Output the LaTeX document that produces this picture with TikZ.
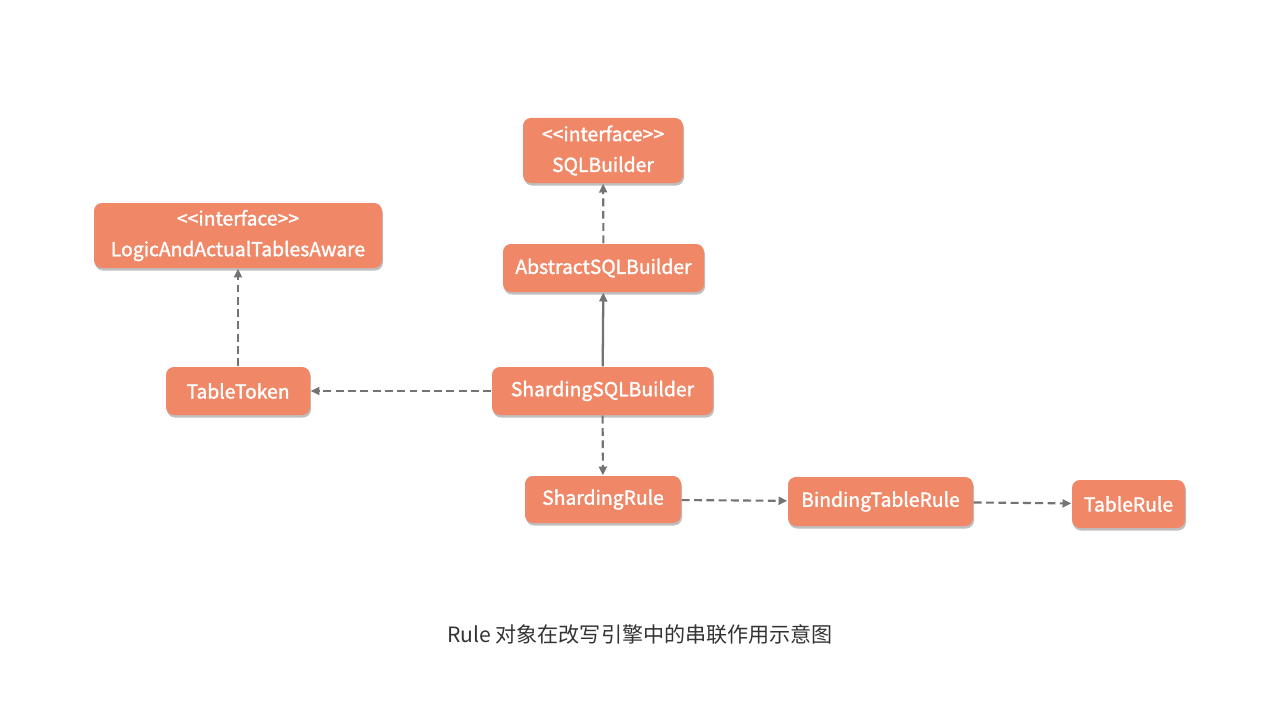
\documentclass[tikz,border=0pt]{standalone}
\usepackage{fontspec}
\setmainfont{Noto Sans CJK SC}
\newfontfamily\boxfont[FakeBold=1.6]{Noto Sans CJK SC}
\usetikzlibrary{arrows.meta,shadows}
\definecolor{boxfill}{HTML}{F08766}
\definecolor{linkgray}{HTML}{737373}
\definecolor{captiongray}{HTML}{333333}
\begin{document}
\begin{tikzpicture}[>={Triangle[length=5pt,width=4.5pt]}, thick,
  box/.style={fill=boxfill, rounded corners=4.5pt, text=white, align=center,
    font=\boxfont\fontsize{11}{17.5}\selectfont,
    drop shadow={shadow xshift=0.02cm, shadow yshift=-0.05cm, fill=black, opacity=0.25}},
  dep/.style={->, draw=linkgray, line width=1.2pt, dash pattern=on 4.5pt off 2.5pt},
  ext/.style={->, draw=linkgray, line width=1.3pt}]
\useasboundingbox (0,0) rectangle (25.6,14.42);
\node[box, minimum width=3.2cm, minimum height=1.3cm] (sqlb) at (12.06,11.41) {<{}<interface>{}>\\SQLBuilder};
\node[box, minimum width=4.02cm, minimum height=0.96cm] (abs) at (12.07,9.06) {AbstractSQLBuilder};
\node[box, minimum width=5.76cm, minimum height=1.3cm] (aware) at (4.76,9.71) {<{}<interface>{}>\\LogicAndActualTablesAware};
\node[box, minimum width=2.88cm, minimum height=0.96cm] (token) at (4.76,6.60) {TableToken};
\node[box, minimum width=4.42cm, minimum height=0.96cm] (shsql) at (12.05,6.60) {ShardingSQLBuilder};
\node[box, minimum width=3.12cm, minimum height=0.94cm] (shrule) at (12.06,4.43) {ShardingRule};
\node[box, minimum width=3.70cm, minimum height=0.98cm] (bind) at (17.61,4.39) {BindingTableRule};
\node[box, minimum width=2.26cm, minimum height=0.96cm] (trule) at (22.57,4.34) {TableRule};
\node[text=captiongray, font=\fontsize{12}{14}\selectfont] (cap) at (12.8,1.74) {Rule 对象在改写引擎中的串联作用示意图};
\draw[dep] (abs) -- (sqlb);
\draw[ext] (shsql) -- (abs);
\draw[dep] (token) -- (aware);
\draw[dep] (shsql) -- (token);
\draw[dep] (shsql) -- (shrule);
\draw[dep] (shrule) -- (bind);
\draw[dep] (bind) -- (trule);
\end{tikzpicture}
\end{document}
